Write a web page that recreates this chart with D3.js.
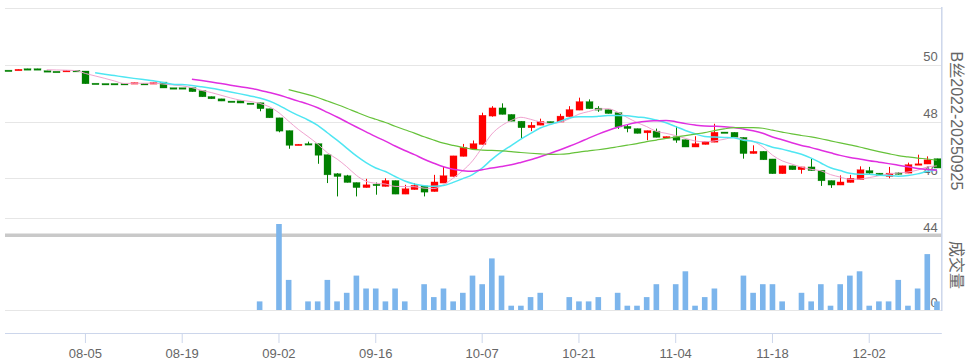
<!DOCTYPE html>
<html>
<head>
<meta charset="utf-8">
<script src="https://d3js.org/d3.v7.min.js"></script>
<style>
  body { margin: 0; background: #fff; }
  text { font-family: "Liberation Sans", "Noto Sans CJK SC", sans-serif; }
</style>
</head>
<body>
<svg id="canvas" width="969" height="361"></svg>
<script>
const dates = [
  "07-24","07-25","07-26","07-29","07-30","07-31","08-01","08-02",
  "08-05","08-06","08-07","08-08","08-09","08-12","08-13","08-14","08-15","08-16",
  "08-19","08-20","08-21","08-22","08-23","08-26","08-27","08-28","08-29","08-30",
  "09-02","09-03","09-04","09-05","09-06","09-09","09-10","09-11","09-12","09-13",
  "09-16","09-17","09-18","09-19","09-20","09-23","09-24","09-25","09-26","09-27","09-30",
  "10-07","10-08","10-09","10-10","10-11","10-14","10-15","10-16","10-17","10-18",
  "10-21","10-22","10-23","10-24","10-25","10-28","10-29","10-30","10-31","11-01",
  "11-04","11-05","11-06","11-07","11-08","11-11","11-12","11-13","11-14","11-15",
  "11-18","11-19","11-20","11-21","11-22","11-25","11-26","11-27","11-28","11-29",
  "12-02","12-03","12-04","12-05","12-06","12-09","12-10","12-11"
];

const open = [
  49.81,49.82,49.86,49.86,49.79,49.77,49.78,49.80,49.78,49.35,
  49.34,49.34,49.34,49.35,49.34,49.35,49.39,49.19,49.19,49.19,
  49.09,48.88,48.80,48.72,48.73,48.65,48.66,48.45,48.13,47.68,
  47.17,47.22,47.22,46.83,46.16,46.09,45.85,45.67,45.79,45.71,
  45.92,45.44,45.60,45.73,45.53,45.83,46.06,46.77,47.03,47.19,
  48.19,48.48,48.25,48.01,47.78,47.87,48.00,47.98,48.17,48.40,
  48.70,48.47,48.42,48.31,47.83,47.75,47.60,47.66,47.42,47.46,
  47.36,47.10,47.19,47.27,47.63,47.62,47.44,46.87,46.95,46.68,
  46.16,46.44,46.30,46.40,46.28,45.92,45.76,45.85,45.95,46.27,
  46.18,46.06,46.19,46.18,46.49,46.50,46.69
];
const high = [
  49.81,49.84,49.86,49.86,49.79,49.77,49.80,49.80,49.78,49.35,
  49.34,49.34,49.34,49.37,49.34,49.37,49.39,49.19,49.19,49.19,
  49.09,48.88,48.80,48.72,48.73,48.65,48.66,48.45,48.13,47.68,
  47.20,47.29,47.22,46.83,46.18,46.12,45.85,45.98,45.85,46.00,
  45.92,45.77,45.83,45.73,46.12,46.42,46.79,47.21,47.33,48.31,
  48.54,48.64,48.25,48.01,47.98,48.10,48.00,48.27,48.54,48.84,
  48.78,48.54,48.42,48.31,47.89,47.75,47.68,47.75,47.47,47.83,
  47.36,47.48,47.30,47.92,47.63,47.62,47.44,47.16,46.95,46.68,
  46.44,46.44,46.40,46.69,46.28,45.92,46.10,46.12,46.42,46.40,
  46.18,46.40,46.21,46.55,46.83,46.77,46.69
];
const low = [
  49.81,49.82,49.85,49.84,49.78,49.77,49.78,49.78,49.33,49.35,
  49.34,49.34,49.34,49.35,49.34,49.35,49.18,49.19,49.19,49.05,
  48.87,48.80,48.72,48.72,48.65,48.65,48.36,48.13,47.62,47.04,
  47.17,47.20,46.51,45.83,45.36,45.85,45.36,45.67,45.42,45.71,
  45.44,45.44,45.60,45.36,45.53,45.83,46.06,46.77,47.03,47.19,
  48.17,48.25,48.01,47.39,47.66,47.87,47.99,47.98,48.17,48.40,
  48.45,48.34,48.28,47.74,47.62,47.58,47.34,47.44,47.42,47.25,
  47.10,47.10,47.19,47.27,47.62,47.44,46.69,46.87,46.65,46.16,
  46.16,46.30,46.16,46.27,45.73,45.66,45.76,45.85,45.95,46.12,
  46.09,46.00,46.13,46.18,46.49,46.50,46.36
];
const close = [
  49.81,49.84,49.85,49.84,49.78,49.77,49.80,49.78,49.33,49.35,
  49.34,49.34,49.34,49.37,49.34,49.37,49.18,49.19,49.19,49.05,
  48.87,48.80,48.72,48.72,48.65,48.65,48.45,48.13,47.66,47.16,
  47.20,47.20,46.81,46.12,46.06,45.85,45.67,45.77,45.77,45.92,
  45.44,45.63,45.75,45.51,45.87,46.09,46.79,47.09,47.22,48.22,
  48.48,48.25,48.01,47.78,47.87,48.00,47.99,48.19,48.42,48.70,
  48.45,48.40,48.28,47.81,47.75,47.58,47.68,47.44,47.47,47.34,
  47.10,47.22,47.30,47.62,47.62,47.44,46.87,46.95,46.65,46.16,
  46.44,46.30,46.40,46.27,45.91,45.76,45.87,46.00,46.30,46.18,
  46.09,46.18,46.17,46.48,46.51,46.65,46.36
];
const volume = [
  0,0,0,0,0,0,0,0,0,0,
  0,0,0,0,0,0,0,0,0,0,
  0,0,0,0,0,0,2,0,20,7,
  0,2,2,7,2,4,8,5,5,2,
  5,2,0,6,3,5,2,4,8,6,
  12,8,1,1,3,4,0,0,3,2,
  2,3,0,4,1,1,3,6,0,6,
  9,1,3,5,0,0,8,4,6,6,
  2,0,4,2,6,1,6,8,9,1,
  2,2,7,1,5,13,2
];

const tickDates = ["08-05","08-19","09-02","09-16","10-07","10-21","11-04","11-18","12-02"];
const priceTicks = [44, 46, 48, 50];
const priceGrid = [44, 46, 48, 50, 52];
const maPeriods = [5, 10, 20, 30];
const maColors = ["#f0a3cf", "#4fe6f2", "#e02fe0", "#66c23a"];
const maWidths = [1, 1.5, 1.5, 1.2];

const svg = d3.select("#canvas");
const left = 3.2, right = 941.8;

const x = d3.scaleBand().domain(dates).range([left, right])
  .paddingInner(0.26).paddingOuter(0.13);
const cx = d => x(d) + x.bandwidth() / 2;
const y = d3.scaleLinear().domain([44, 52]).range([235, 8]);
const yv = d3.scaleLinear().domain([0, 20]).range([310, 224]);

// grid lines
const grid = svg.append("g");
priceGrid.forEach(v => {
  grid.append("line")
    .attr("x1", 5).attr("x2", right)
    .attr("y1", Math.round(y(v)) + 0.5).attr("y2", Math.round(y(v)) + 0.5)
    .attr("stroke", "#e6e6e6");
});
grid.append("line").attr("x1", 5).attr("x2", right)
  .attr("y1", 218.5).attr("y2", 218.5).attr("stroke", "#e6e6e6");
grid.append("line").attr("x1", 5).attr("x2", right)
  .attr("y1", 310.5).attr("y2", 310.5).attr("stroke", "#e6e6e6");

// price labels (inside plot, above grid line)
const yAxis = d3.axisLeft(y).tickValues(priceTicks).tickSize(0).tickPadding(4);
const ya = svg.append("g").attr("transform", `translate(${right},0)`).call(yAxis);
ya.select(".domain").remove();
ya.selectAll("text").attr("fill", "#666").attr("font-size", 13).attr("dy", "-0.3em")
  .style("font-family", "'Liberation Sans', sans-serif");

const yvAxis = d3.axisLeft(yv).tickValues([0]).tickSize(0).tickPadding(4);
const yva = svg.append("g").attr("transform", `translate(${right},0)`).call(yvAxis);
yva.select(".domain").remove();
yva.selectAll("text").attr("fill", "#666").attr("font-size", 13).attr("dy", "-0.3em")
  .style("font-family", "'Liberation Sans', sans-serif");

// separator band between panels
svg.append("rect").attr("x", 5).attr("y", 233.5).attr("width", right - 5).attr("height", 3.5)
  .attr("fill", "#c9c9c9");

// candles
const idx = d3.range(dates.length);
const bw = Math.round(x.bandwidth());
const candles = svg.append("g");
idx.forEach(i => {
  const up = close[i] > open[i];
  const col = up ? "#ff0000" : "#008000";
  const xc = Math.round(cx(dates[i])) + 0.5;
  candles.append("line")
    .attr("x1", xc).attr("x2", xc)
    .attr("y1", y(high[i])).attr("y2", y(low[i]))
    .attr("stroke", col).attr("stroke-width", 1);
  const top = y(Math.max(open[i], close[i]));
  const h = Math.max(1.5, Math.abs(y(open[i]) - y(close[i])));
  candles.append("rect")
    .attr("x", xc - bw / 2).attr("y", top)
    .attr("width", bw).attr("height", h)
    .attr("fill", col).attr("stroke", col).attr("stroke-width", 0.5)
    .attr("stroke-opacity", 0.6);
});

// moving averages
const line = d3.line()
  .defined(d => d[1] != null)
  .x(d => cx(dates[d[0]]))
  .y(d => y(d[1]))
  .curve(d3.curveMonotoneX);
maPeriods.forEach((n, k) => {
  const pts = idx.map(i => [i, i < n - 1 ? null : d3.mean(close.slice(i - n + 1, i + 1))]);
  svg.append("path").attr("d", line(pts))
    .attr("fill", "none").attr("stroke", maColors[k]).attr("stroke-width", maWidths[k]);
});

// volume bars
const vw = x.step() * 0.58;
svg.append("g").selectAll("rect")
  .data(idx.filter(i => volume[i] > 0))
  .join("rect")
  .attr("x", i => cx(dates[i]) - vw / 2)
  .attr("y", i => yv(volume[i]))
  .attr("width", vw)
  .attr("height", i => yv(0) - yv(volume[i]))
  .attr("fill", "#7cb5ec");

// x axis
const xAxis = d3.axisBottom(x).tickValues(tickDates).tickSize(10).tickPadding(6).tickSizeOuter(0);
const xa = svg.append("g").attr("transform", "translate(0,333)").call(xAxis);
xa.select(".domain").attr("stroke", "#ccd6eb").attr("d", `M5,0.5H${right}`);
xa.selectAll(".tick line").attr("stroke", "#ccd6eb");
xa.selectAll("text").attr("fill", "#666").attr("font-size", 13)
  .style("font-family", "'Liberation Sans', sans-serif");

// right axis line
svg.append("line").attr("x1", right).attr("x2", right).attr("y1", 7).attr("y2", 311)
  .attr("stroke", "#ccd6eb").attr("stroke-width", 1.5);

// rotated axis titles
svg.append("text").attr("transform", "translate(951,121) rotate(90)")
  .attr("text-anchor", "middle").attr("font-size", 16).attr("fill", "#666")
  .text("B丝2022-20250925");
svg.append("text").attr("transform", "translate(951,265) rotate(90)")
  .attr("text-anchor", "middle").attr("font-size", 16).attr("fill", "#666")
  .text("成交量");
</script>
</body>
</html>
